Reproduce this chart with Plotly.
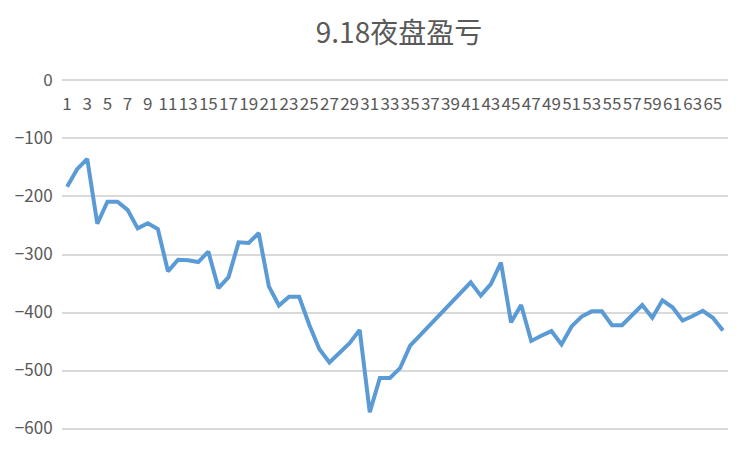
import plotly.graph_objects as go

# 9.18 night session P&L, one value per trade index
idx = list(range(1, 67))
pnl = [-183, -153, -135, -247, -209, -209, -223, -255, -246, -256,
       -329, -309, -310, -313, -295, -358, -339, -279, -280, -263,
       -355, -388, -373, -373, -421, -463, -486, -470, -453, -430,
       -572, -513, -513, -496, -457, -439, -421, -403, -384, -367,
       -348, -371, -351, -314, -417, -387, -449, -440, -432, -455,
       -424, -407, -398, -398, -422, -422, -404, -387, -409, -379,
       -391, -414, -406, -397, -409, -431]
tick_vals = list(range(1, 67, 2))
y_ticks = [0, -100, -200, -300, -400, -500, -600]

# the page body adds an 8px offset, so the figure is a bit smaller
W, H = 744, 444
L, R, T, B = 54, 24, 69, 20

fig = go.Figure()
fig.add_trace(go.Scatter(x=idx, y=pnl, mode="lines",
                         line=dict(color="#5b9bd5", width=4),
                         hoverinfo="x+y"))

fig.update_layout(
    width=W, height=H,
    margin=dict(l=L, r=R, t=T, b=B),
    paper_bgcolor="white", plot_bgcolor="white",
    showlegend=False,
    font=dict(family="Noto Sans CJK SC, Noto Sans, sans-serif", color="#595959"),
    title=dict(text="9.18夜盘盈亏", x=391 / W, xanchor="center",
               y=1 - 25 / H, yanchor="middle",
               font=dict(size=28, color="#595959")),
    xaxis=dict(range=[0.5, 66.5], tickmode="array", tickvals=tick_vals,
               ticktext=[str(v) for v in tick_vals], tickangle=0,
               showgrid=False, zeroline=False, showline=False,
               anchor="free", position=1, side="bottom", automargin=False,
               ticks="outside", ticklen=12, tickcolor="rgba(0,0,0,0)",
               tickfont=dict(size=17, color="#595959")),
    yaxis=dict(range=[-606, 6], tickmode="array", tickvals=y_ticks,
               showgrid=True, gridcolor="#d9d9d9", gridwidth=1.5,
               zeroline=False, showline=False, automargin=False,
               ticks="outside", ticklen=5, tickcolor="rgba(0,0,0,0)",
               tickfont=dict(size=17, color="#595959")),
)

fig.write_html("out.html")
